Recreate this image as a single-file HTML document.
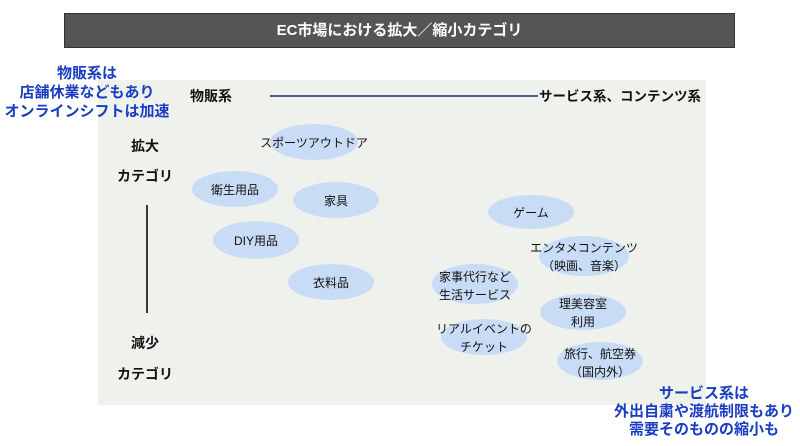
<!DOCTYPE html>
<html><head><meta charset="utf-8"><style>
body{margin:0;width:800px;height:446px;background:#fff;overflow:hidden;position:relative;font-family:"Liberation Sans","Noto Sans CJK JP",sans-serif;}
.a{position:absolute;white-space:nowrap}
</style></head><body>
<div class="a" style="left:64px;top:13px;width:671px;height:35px;background:#555;border:1px solid #333;box-sizing:border-box;color:#fff;font-weight:bold;font-size:15px;line-height:33px;text-align:center">EC市場における拡大／縮小カテゴリ</div>
<div class="a" style="left:98px;top:80px;width:608px;height:325px;background:#eff1ed"></div>
<svg class="a" style="left:0;top:0" width="800" height="446">
<line x1="270" y1="96" x2="538" y2="96" stroke="#1a2a7a" stroke-width="1.5"/>
<line x1="147" y1="205" x2="147" y2="313" stroke="#000" stroke-width="1.5"/>
<g fill="#c9dcf6">
<ellipse cx="314" cy="142" rx="44" ry="18"/>
<ellipse cx="235" cy="189" rx="43" ry="18"/>
<ellipse cx="336" cy="200" rx="43" ry="18"/>
<ellipse cx="256" cy="240" rx="43" ry="19"/>
<ellipse cx="331" cy="282" rx="43" ry="18"/>
<ellipse cx="531" cy="212" rx="43" ry="17"/>
<ellipse cx="584" cy="256" rx="45" ry="20"/>
<ellipse cx="475" cy="284" rx="43" ry="20"/>
<ellipse cx="583" cy="312" rx="43" ry="18"/>
<ellipse cx="484" cy="337" rx="43" ry="18"/>
<ellipse cx="600" cy="361" rx="43" ry="19"/>
</g>
<g font-size="12" text-anchor="middle" fill="#111">
<text x="314" y="147">スポーツアウトドア</text>
<text x="235" y="194">衛生用品</text>
<text x="336" y="205">家具</text>
<text x="256" y="245">DIY用品</text>
<text x="331" y="287">衣料品</text>
<text x="531" y="217">ゲーム</text>
<text x="584" y="252">エンタメコンテンツ</text>
<text x="584" y="270">（映画、音楽）</text>
<text x="475" y="281">家事代行など</text>
<text x="475" y="299">生活サービス</text>
<text x="583" y="308">理美容室</text>
<text x="583" y="326">利用</text>
<text x="484" y="333">リアルイベントの</text>
<text x="484" y="351">チケット</text>
<text x="600" y="358">旅行、航空券</text>
<text x="600" y="376">（国内外）</text>
</g>
<g font-size="14" font-weight="bold" fill="#111">
<text x="190" y="101">物販系</text>
<text x="539" y="101" font-size="13.5">サービス系、コンテンツ系</text>
<text x="145" y="151" text-anchor="middle">拡大</text>
<text x="145" y="181" text-anchor="middle">カテゴリ</text>
<text x="145" y="348" text-anchor="middle">減少</text>
<text x="145" y="379" text-anchor="middle">カテゴリ</text>
</g>
<g font-size="15" font-weight="bold" fill="#1a3cc0" text-anchor="middle">
<text x="87" y="78">物販系は</text>
<text x="87" y="97">店舗休業などもあり</text>
<text x="87" y="116">オンラインシフトは加速</text>
<text x="704" y="398">サービス系は</text>
<text x="704" y="416">外出自粛や渡航制限もあり</text>
<text x="704" y="434">需要そのものの縮小も</text>
</g>
</svg>
</body></html>
